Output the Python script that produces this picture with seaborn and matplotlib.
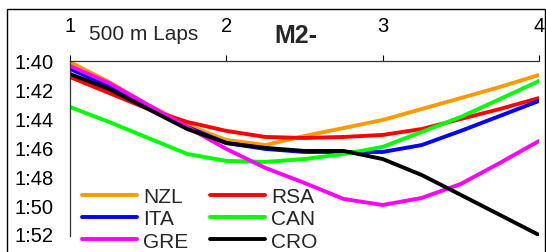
import pandas as pd
import seaborn as sns
import matplotlib.pyplot as plt
from matplotlib.patches import Rectangle
from matplotlib.ticker import FuncFormatter

# lap positions (500 m laps, read at quarter-lap steps)
laps = [1, 1.25, 1.5, 1.75, 2, 2.25, 2.5, 2.75, 3, 3.25, 3.5, 3.75, 4]

# pace in seconds per 500 m
nzl = [100.07, 101.46, 103.05, 104.44, 105.48, 105.83, 105.20, 104.65, 104.09, 103.33, 102.57, 101.80, 100.97]
rsa = [101.11, 102.22, 103.33, 104.23, 104.85, 105.27, 105.34, 105.27, 105.13, 104.72, 104.02, 103.33, 102.57]
ita = [100.55, 101.73, 103.19, 104.58, 105.69, 106.10, 106.31, 106.31, 106.31, 105.83, 104.85, 103.81, 102.77]
can = [103.19, 104.23, 105.34, 106.45, 106.93, 107.00, 106.80, 106.45, 105.96, 104.92, 103.88, 102.64, 101.39]
gre = [100.35, 101.53, 103.05, 104.58, 106.10, 107.42, 108.46, 109.57, 109.99, 109.50, 108.53, 107.07, 105.55]
cro = [100.90, 101.94, 103.33, 104.72, 105.69, 106.03, 106.24, 106.24, 106.80, 107.91, 109.29, 110.68, 112.07]

crews = ["NZL", "RSA", "ITA", "CAN", "GRE", "CRO"]
colors = {"NZL": "#FF9900", "RSA": "#FF0000", "ITA": "#0000FF",
          "CAN": "#00FF00", "GRE": "#FF00FF", "CRO": "#000000"}

rows = []
for name, vals in zip(crews, [nzl, rsa, ita, can, gre, cro]):
    for x, v in zip(laps, vals):
        rows.append({"lap": x, "pace": v, "crew": name})
df = pd.DataFrame(rows)

sns.set_style("white")
plt.rcParams['font.family'] = ['Liberation Sans', 'DejaVu Sans']

fig = plt.figure(figsize=(5.46, 2.53), dpi=100)
ax = fig.add_axes([70/546, 1-237/253, (539-70)/546, (237-62)/253])

sns.lineplot(data=df, x="lap", y="pace", hue="crew", hue_order=crews,
             palette=colors, linewidth=2.8, ax=ax)

ax.set_xlim(1, 4)
ax.set_ylim(112.14, 100)
ax.set_xticks([1, 2, 3, 4])
ax.set_xticklabels(["1", "2", "3", "4"])
ax.set_yticks([100, 102, 104, 106, 108, 110, 112])
ax.yaxis.set_major_formatter(FuncFormatter(lambda v, p: f"{int(v // 60)}:{int(round(v % 60)):02d}"))
ax.xaxis.tick_top()
ax.tick_params(axis="x", direction="out", length=4, width=0.8, pad=15, labelsize=14.5, colors="black")
ax.tick_params(axis="y", direction="out", length=5, width=0.8, pad=7, labelsize=14.5, colors="black")
ax.set_xlabel("")
ax.set_ylabel("")
for s in ["right", "bottom"]:
    ax.spines[s].set_visible(False)
for s in ["left", "top"]:
    ax.spines[s].set_color("#333333")
    ax.spines[s].set_linewidth(0.9)

# legend filled row by row: NZL RSA / ITA CAN / GRE CRO
handles, labels = ax.get_legend_handles_labels()
order = [0, 2, 4, 1, 3, 5]
ax.legend([handles[i] for i in order], [labels[i] for i in order],
          ncol=2, loc="upper left", bbox_to_anchor=(82/546, 1-188/253),
          bbox_transform=fig.transFigure, frameon=False, fontsize=15,
          handlelength=2.65, handletextpad=0.3, columnspacing=1.0,
          labelspacing=0.16, borderpad=0, borderaxespad=0)

fig.text(89/546, 1-34/253, "500 m Laps", ha="left", va="center", fontsize=15)
fig.text(296/546, 1-36/253, "M2-", ha="center", va="center", fontsize=18, fontweight="bold")

fig.patches.append(Rectangle((7/546, -0.05), (545-7)/546, 1-10/253+0.05,
                             transform=fig.transFigure, fill=False,
                             edgecolor="black", linewidth=1))

fig.savefig("out.png", dpi=100)
